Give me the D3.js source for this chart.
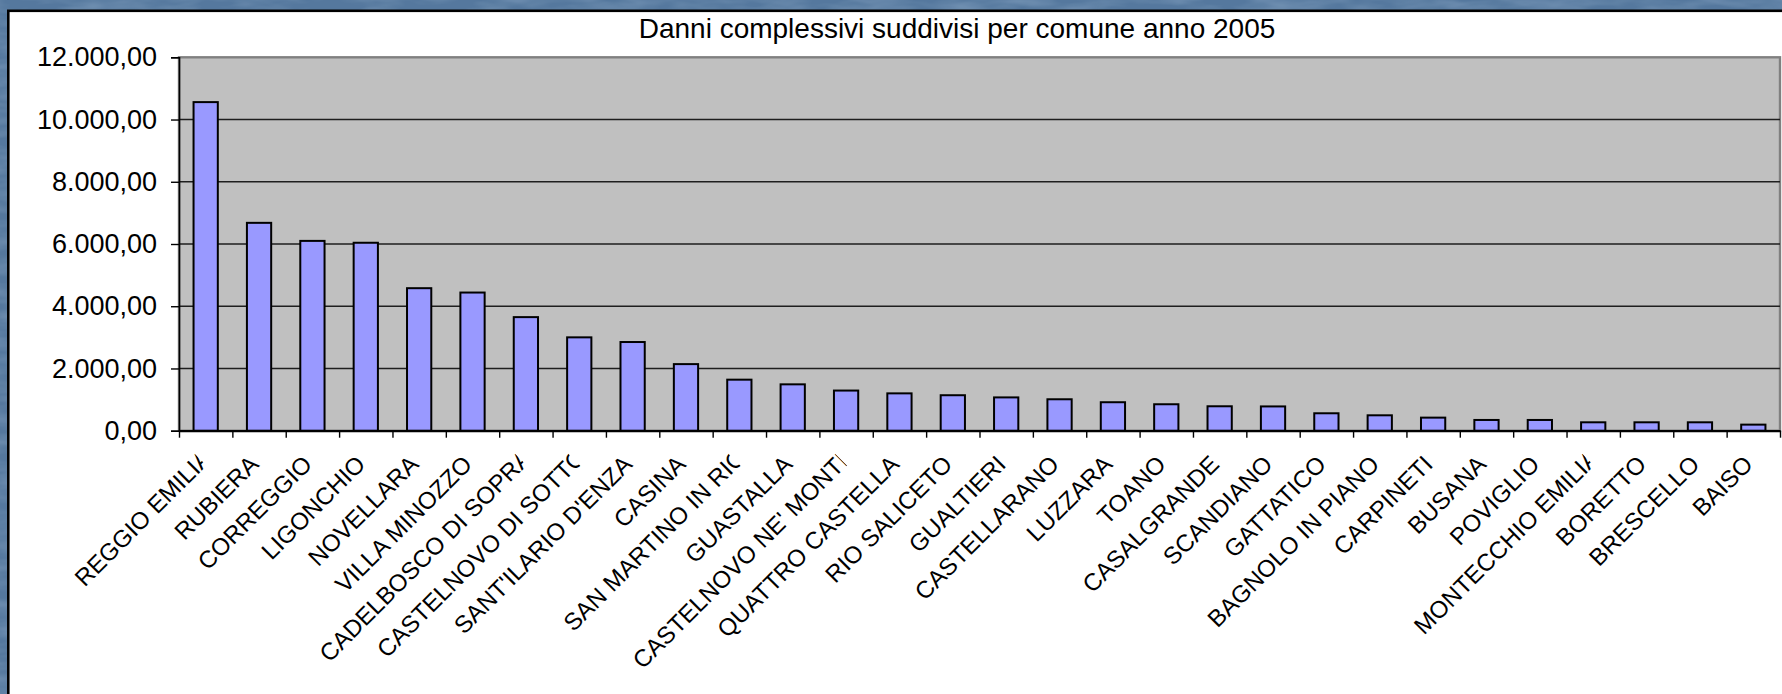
<!DOCTYPE html>
<html>
<head>
<meta charset="utf-8">
<script src="https://cdn.jsdelivr.net/npm/d3@7"></script>
<style>
  html, body { margin: 0; padding: 0; background: #56799e; overflow: hidden; }
  svg { display: block; }
  text { font-family: "Liberation Sans", Arial, sans-serif; fill: #000; }
</style>
</head>
<body>
<svg id="chart" width="1782" height="694"></svg>
<script>
// Damage totals per municipality, 2005
const categories = [
  "REGGIO EMILIA", "RUBIERA", "CORREGGIO", "LIGONCHIO", "NOVELLARA",
  "VILLA MINOZZO", "CADELBOSCO DI SOPRA", "CASTELNOVO DI SOTTO", "SANT'ILARIO D'ENZA", "CASINA",
  "SAN MARTINO IN RIO", "GUASTALLA", "CASTELNOVO NE' MONTI", "QUATTRO CASTELLA", "RIO SALICETO",
  "GUALTIERI", "CASTELLARANO", "LUZZARA", "TOANO", "CASALGRANDE",
  "SCANDIANO", "GATTATICO", "BAGNOLO IN PIANO", "CARPINETI", "BUSANA",
  "POVIGLIO", "MONTECCHIO EMILIA", "BORETTO", "BRESCELLO", "BAISO"
];
const damages = [
  10560, 6680, 6100, 6040, 4580,
  4440, 3650, 3000, 2850, 2140,
  1640, 1490, 1290, 1200, 1140,
  1070, 1010, 915, 850, 785,
  780, 560, 495, 420, 345,
  345, 270, 270, 270, 195
];
// Names whose last letter is cut off by the label box
const clippedLabels = [
  "REGGIO EMILIA", "CADELBOSCO DI SOPRA", "CASTELNOVO DI SOTTO",
  "SAN MARTINO IN RIO", "CASTELNOVO NE' MONTI", "MONTECCHIO EMILIA"
];
const yTicks = [0, 2000, 4000, 6000, 8000, 10000, 12000];
const title = "Danni complessivi suddivisi per comune anno 2005";

const svg = d3.select("#chart");
const W = 1782, H = 694;

// textured blue backdrop
const defs = svg.append("defs");
const tex = defs.append("filter").attr("id", "grain").attr("x", 0).attr("y", 0).attr("width", 1).attr("height", 1);
tex.append("feTurbulence").attr("type", "fractalNoise").attr("baseFrequency", "0.02 0.08").attr("numOctaves", 3).attr("seed", 4).attr("result", "n");
tex.append("feColorMatrix").attr("in", "n").attr("type", "matrix")
  .attr("values", "0 0 0 0 0.42  0 0 0 0 0.56  0 0 0 0 0.72  0 0 0 0.9 -0.3");
svg.append("rect").attr("width", W).attr("height", H).attr("fill", "#55789e");
svg.append("rect").attr("width", W).attr("height", H).attr("filter", "url(#grain)").attr("opacity", 0.6);

// white chart frame
svg.append("rect")
  .attr("x", 8.3).attr("y", 10.8).attr("width", W + 20).attr("height", H + 20)
  .attr("fill", "#fff").attr("stroke", "#000").attr("stroke-width", 2.6);

const m = { left: 179, right: 1780, top: 57.3, bottom: 430.7 };

const x = d3.scaleBand().domain(categories).range([m.left, m.right]).padding(0);
const xIdx = d3.scaleLinear().domain([0, categories.length]).range([m.left, m.right]);
const y = d3.scaleLinear().domain([0, 12000]).range([m.bottom, m.top]);

const fmtLocale = d3.formatLocale({ decimal: ",", thousands: ".", grouping: [3], currency: ["€", ""] });
const fmt = fmtLocale.format(",.2f");

// plot area
svg.append("rect")
  .attr("x", m.left).attr("y", m.top)
  .attr("width", m.right - m.left).attr("height", m.bottom - m.top)
  .attr("fill", "#c0c0c0").attr("stroke", "#808080").attr("stroke-width", 2.4);

// gridlines
svg.append("g")
  .selectAll("line")
  .data(yTicks.filter(t => t > 0 && t < 12000))
  .join("line")
  .attr("x1", m.left).attr("x2", m.right)
  .attr("y1", d => y(d)).attr("y2", d => y(d))
  .attr("stroke", "#1e1e1e").attr("stroke-width", 1.4);

// bars
const bw = x.bandwidth() / 2.2;
svg.append("g")
  .selectAll("rect")
  .data(categories.map((c, i) => ({ c, v: damages[i] })))
  .join("rect")
  .attr("x", d => x(d.c) + (x.bandwidth() - bw) / 2)
  .attr("width", bw)
  .attr("y", d => y(d.v))
  .attr("height", d => y(0) - y(d.v))
  .attr("fill", "#9999ff").attr("stroke", "#000").attr("stroke-width", 2);

// y axis
const yAxis = svg.append("g")
  .attr("transform", `translate(${m.left},0)`)
  .call(d3.axisLeft(y).tickValues(yTicks).tickFormat(fmt).tickSize(8).tickPadding(14));
yAxis.select(".domain").attr("stroke", "#000").attr("stroke-width", 1.6);
yAxis.selectAll(".tick line").attr("stroke", "#000").attr("stroke-width", 1.4);
yAxis.selectAll(".tick text").attr("font-size", 27).attr("font-family", "Liberation Sans, Arial, sans-serif").attr("fill", "#000");

// x axis with ticks on category boundaries
const xAxis = svg.append("g")
  .attr("transform", `translate(0,${m.bottom})`)
  .call(d3.axisBottom(xIdx).tickValues(d3.range(categories.length + 1)).tickFormat("").tickSize(7).tickSizeOuter(0));
xAxis.select(".domain").attr("stroke", "#000").attr("stroke-width", 2.2);
xAxis.selectAll(".tick line").attr("stroke", "#000").attr("stroke-width", 1.4);

// rotated category labels, right end aligned under each bar
const lab = svg.append("g");
categories.forEach((c, i) => {
  const cx = x(c) + x.bandwidth() / 2;
  const g = lab.append("g").attr("transform", `translate(${cx + 1},${m.bottom + 35}) rotate(-45)`);
  const t = g.append("text")
    .attr("x", 0).attr("y", 0)
    .attr("text-anchor", "end")
    .attr("font-size", 24)
    .text(c);
  if (clippedLabels.includes(c)) {
    const n = c.length;
    const lastW = t.node().getSubStringLength(n - 1, 1);
    // shift text so the cut falls inside the last glyph
    const cut = lastW * 0.55;
    t.attr("x", cut);
    const id = "clip" + i;
    g.append("clipPath").attr("id", id)
      .append("rect").attr("x", -2000).attr("y", -40).attr("width", 2000).attr("height", 80);
    t.attr("clip-path", `url(#${id})`);
  }
});

// title
svg.append("text")
  .attr("x", 957).attr("y", 38)
  .attr("text-anchor", "middle")
  .attr("font-size", 28)
  .text(title);
</script>
</body>
</html>
